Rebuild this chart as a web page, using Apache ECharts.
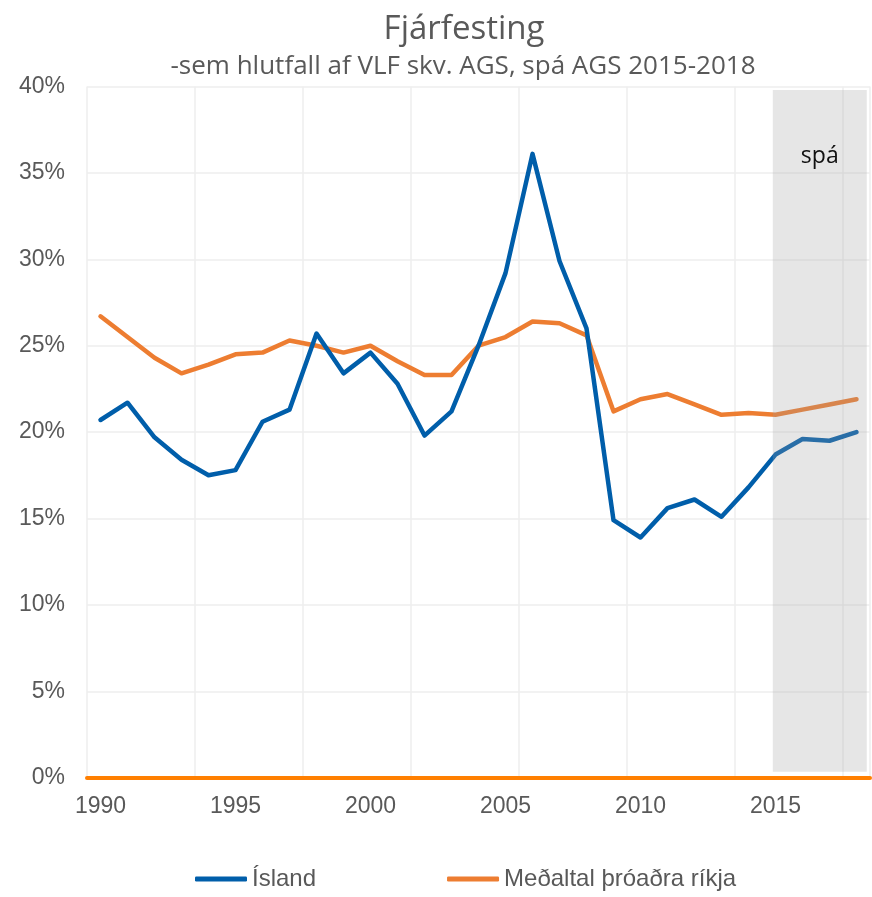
<!DOCTYPE html>
<html>
<head>
<meta charset="utf-8">
<script src="https://cdn.jsdelivr.net/npm/echarts@6/dist/echarts.min.js"></script>
<style>
  html, body { margin: 0; padding: 0; background: #fff; }
  #chart { width: 872px; height: 897px; }
</style>
</head>
<body>
<div id="chart"></div>
<script>
// ár 1990-2018
const years = [];
for (let y = 1990; y <= 2018; y++) years.push(String(y));

// Fjárfesting sem % af VLF
const island = [20.7, 21.7, 19.7, 18.4, 17.5, 17.8, 20.6, 21.3, 25.7, 23.4,
  24.6, 22.8, 19.8, 21.2, 25.0, 29.2, 36.1, 29.9, 26.0, 14.9,
  13.9, 15.6, 16.1, 15.1, 16.8, 18.7, 19.6, 19.5, 20.0];
const medaltal = [26.7, 25.5, 24.3, 23.4, 23.9, 24.5, 24.6, 25.3, 25.0, 24.6,
  25.0, 24.1, 23.3, 23.3, 25.0, 25.5, 26.4, 26.3, 25.6, 21.2,
  21.9, 22.2, 21.6, 21.0, 21.1, 21.0, 21.3, 21.6, 21.9];

// spá-tímabil (á samfelldum ás)
const spaFrom = 2014.9;
const spaTo = 2018.38;

const chart = echarts.init(document.getElementById('chart'));
const gray = '#595959';
const axisFont = { fontFamily: 'Liberation Sans', fontSize: 23, color: gray };

chart.setOption({
  animation: false,
  title: [
    {
      text: 'Fjárfesting',
      left: 459, top: 8, textAlign: 'center',
      textStyle: { fontFamily: 'Open Sans', fontWeight: 'normal', fontSize: 33, color: gray }
    },
    {
      text: '-sem hlutfall af VLF skv. AGS, spá AGS 2015-2018',
      left: 458, top: 49, textAlign: 'center',
      textStyle: { fontFamily: 'Open Sans', fontWeight: 'normal', fontSize: 26, color: gray }
    }
  ],
  legend: {
    bottom: 1,
    left: 190,
    itemGap: 131,
    itemWidth: 52,
    itemHeight: 5,
    icon: 'roundRect',
    data: ['Ísland', 'Meðaltal þróaðra ríkja'],
    textStyle: { fontFamily: 'Liberation Sans', fontSize: 24, color: gray }
  },
  grid: { left: 87, right: 2, top: 86.5, bottom: 119.3, containLabel: false },
  xAxis: [
    {
      type: 'category',
      data: years,
      boundaryGap: true,
      axisLine: { show: true, lineStyle: { color: '#FF7F00', width: 4 } },
      axisTick: { show: false, interval: 3 },
      splitLine: { show: true, interval: 3, lineStyle: { color: '#EEEEEE', width: 1.5 } },
      axisLabel: Object.assign({ interval: 4, margin: 17 }, axisFont)
    },
    {
      type: 'value',
      min: 1989.5,
      max: 2018.5,
      show: false
    }
  ],
  yAxis: {
    type: 'value',
    min: 0, max: 40, interval: 5,
    axisLine: { show: false },
    axisTick: { show: false },
    splitLine: { lineStyle: { color: '#EEEEEE', width: 1.5 } },
    axisLabel: Object.assign({ formatter: '{value}%', margin: 22 }, axisFont)
  },
  series: [
    {
      name: 'Ísland',
      type: 'line',
      data: island,
      showSymbol: false,
      color: '#005EAA',
      lineStyle: { width: 4.5, color: '#005EAA', cap: 'round', join: 'round' },
      z: 3
    },
    {
      name: 'Meðaltal þróaðra ríkja',
      type: 'line',
      data: medaltal,
      showSymbol: false,
      color: '#ED7D31',
      lineStyle: { width: 4.5, color: '#ED7D31', cap: 'round', join: 'round' },
      z: 2
    },
    {
      name: 'spa',
      type: 'line',
      xAxisIndex: 1,
      data: [],
      z: 10,
      markArea: {
        silent: true,
        z: 10,
        itemStyle: { color: 'rgba(160,160,160,0.26)' },
        label: {
          show: true,
          position: 'insideTop',
          distance: 55,
          fontFamily: 'Open Sans',
          fontSize: 23,
          color: '#111'
        },
        data: [[
          { name: 'spá', xAxis: spaFrom, yAxis: 39.8 },
          { xAxis: spaTo, yAxis: 0.35 }
        ]]
      }
    }
  ]
});
</script>
</body>
</html>
